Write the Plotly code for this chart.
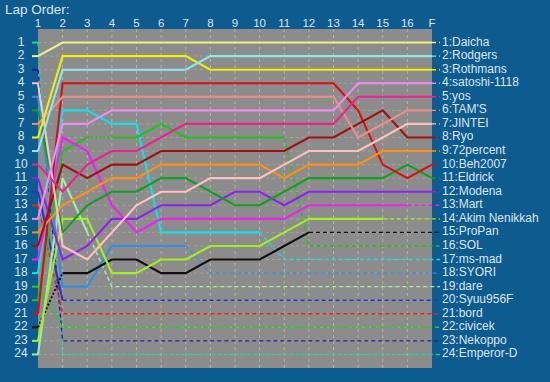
import plotly.graph_objects as go

# ---------------- data ----------------
drivers = ["Daicha", "Rodgers", "Rothmans", "satoshi-1118", "yos", "TAM'S", "JINTEI",
           "Ryo", "72percent", "Beh2007", "Eldrick", "Modena", "Mart", "Akim Nenikkah",
           "ProPan", "SOL", "ms-mad", "SYORI", "dare", "Syuu956F", "bord", "civicek",
           "Nekoppo", "Emperor-D"]

lap_labels = ["1", "2", "3", "4", "5", "6", "7", "8", "9", "10", "11", "12", "13",
              "14", "15", "16", "F"]

# position at each lap column (first column = grid)
pos_daicha = [2, 1, 1, 1, 1, 1, 1, 1, 1, 1, 1, 1, 1, 1, 1, 1, 1]
pos_rodgers = [9, 3, 3, 3, 3, 3, 3, 2, 2, 2, 2, 2, 2, 2, 2, 2, 2]
pos_rothmans = [8, 2, 2, 2, 2, 2, 2, 3, 3, 3, 3, 3, 3, 3, 3, 3, 3]
pos_satoshi = [14, 7, 7, 6, 6, 6, 6, 6, 6, 6, 6, 6, 6, 4, 4, 4, 4]
pos_yos = [10, 12, 10, 9, 9, 8, 7, 7, 7, 7, 7, 7, 7, 5, 5, 5, 5]
pos_tams = [7, 5, 5, 5, 5, 5, 5, 5, 5, 5, 5, 5, 5, 8, 7, 6, 6]
pos_jintei = [4, 16, 17, 15, 13, 12, 12, 11, 11, 11, 10, 9, 9, 9, 8, 7, 7]
pos_ryo = [16, 10, 11, 10, 10, 9, 9, 9, 9, 9, 9, 8, 8, 7, 6, 8, 8]
pos_72percent = [15, 13, 12, 11, 11, 10, 10, 10, 10, 10, 11, 10, 10, 10, 9, 9, 9]
pos_beh2007 = [21, 4, 4, 4, 4, 4, 4, 4, 4, 4, 4, 4, 4, 6, 10, 11, 10]
pos_eldrick = [6, 15, 13, 12, 12, 11, 11, 12, 13, 13, 12, 11, 11, 11, 11, 10, 11]
pos_modena = [11, 17, 16, 14, 14, 13, 13, 13, 12, 12, 13, 12, 12, 12, 12, 12, 12]
pos_mart = [17, 8, 9, 13, 15, 14, 14, 14, 14, 14, 14, 13, 13, 13, 13, 13, 13]
pos_akim = [23, 14, 14, 18, 18, 17, 17, 16, 16, 16, 15, 14, 14, 14, 14, 14, 14]
pos_propan = [22, 18, 18, 17, 17, 18, 18, 17, 17, 17, 16, 15, 15, 15, 15, 15, 15]
pos_sol = [20, 9, 8, 8, 8, 7, 8, 8, 8, 8, 8, 16, 16, 16, 16, 16, 16]
pos_msmad = [18, 6, 6, 7, 7, 15, 15, 15, 15, 15, 17, 17, 17, 17, 17, 17, 17]
pos_syori = [5, 19, 19, 16, 16, 16, 16, 18, 18, 18, 18, 18, 18, 18, 18, 18, 18]
pos_dare = [24, 11, 15, 19, 19, 19, 19, 19, 19, 19, 19, 19, 19, 19, 19, 19, 19]
pos_syuu = [12, 20, 20, 20, 20, 20, 20, 20, 20, 20, 20, 20, 20, 20, 20, 20, 20]
pos_bord = [13, 21, 21, 21, 21, 21, 21, 21, 21, 21, 21, 21, 21, 21, 21, 21, 21]
pos_civicek = [19, 22, 22, 22, 22, 22, 22, 22, 22, 22, 22, 22, 22, 22, 22, 22, 22]
pos_nekoppo = [3, 23, 23, 23, 23, 23, 23, 23, 23, 23, 23, 23, 23, 23, 23, 23, 23]
pos_emperor = [1, 24, 24, 24, 24, 24, 24, 24, 24, 24, 24, 24, 24, 24, 24, 24, 24]

positions = [pos_daicha, pos_rodgers, pos_rothmans, pos_satoshi, pos_yos, pos_tams,
             pos_jintei, pos_ryo, pos_72percent, pos_beh2007, pos_eldrick, pos_modena,
             pos_mart, pos_akim, pos_propan, pos_sol, pos_msmad, pos_syori, pos_dare,
             pos_syuu, pos_bord, pos_civicek, pos_nekoppo, pos_emperor]

# last lap column (1-based) run on track; afterwards drawn dashed
last_lap = [17, 17, 17, 17, 17, 17, 17, 17, 17, 17, 17, 17,
            16, 15, 12, 11, 10, 7, 3, 2, 1, 1, 1, 1]

# lap columns whose following segment is marked (pit) – drawn dotted
pit_laps = {"ProPan": [1], "SOL": [3]}

colors = ["#f0f08c", "#8ce8f0", "#f0f000", "#f08cf0", "#f0208c", "#f08c8c", "#ffc0c0",
          "#a01010", "#ff9010", "#d81010", "#10a020", "#9020f0", "#f020f0", "#a0f020",
          "#101010", "#20c020", "#10e0f0", "#3090e0", "#a0f0a0", "#3030d0", "#f02020",
          "#20d020", "#2020a0", "#20d0a0"]

# ---------------- geometry ----------------
W, H = 550, 382
PL, PR, PT, PB = 38, 432, 29, 368
NLAP = len(lap_labels)
NROW = len(drivers)
xpp = (PR - PL) / (NLAP - 1)
ypp = (PB - PT) / (NROW + 1)


def px_x(px):
    return 1 + (px - PL) / xpp


def px_y(py):
    return (py - PT) / ypp


BG = "#0d5b8f"
PLOT_BG = "#8c8c8c"
TXT = "#dae5f0"
FONT = "Liberation Sans"

STYLE = {
    "solid": dict(width=2.1),
    "dot": dict(width=2.0, dash="2px,2px"),
    "dash": dict(width=1.4, dash="4px,3px"),
}

fig = go.Figure()

laps = list(range(1, NLAP + 1))
x_left = px_x(32)
x_right = px_x(440)

order = list(range(NROW))[::-1]
for i in order:
    name = drivers[i]
    p = positions[i]
    c = colors[i]
    L = last_lap[i]
    pits = pit_laps.get(name, [])
    # grid marker on the left
    fig.add_trace(go.Scatter(x=[x_left, 1], y=[p[0], p[0]], mode="lines",
                             line=dict(color=c, width=2), hoverinfo="skip",
                             showlegend=False))
    # segments lap k -> k+1, plus the tail to the label
    xs_all = laps + [x_right]
    ys_all = p + [p[-1]]
    styles = []
    for k in range(1, NLAP + 1):
        if k >= L:
            styles.append("dash")
        elif k in pits:
            styles.append("dot")
        else:
            styles.append("solid")
    # group consecutive segments with the same style
    start = 0
    for s in range(1, len(styles) + 1):
        if s == len(styles) or styles[s] != styles[start]:
            xs = xs_all[start:s + 1]
            ys = ys_all[start:s + 1]
            st = STYLE[styles[start]]
            fig.add_trace(go.Scatter(x=xs, y=ys, mode="lines",
                                     line=dict(color=c, **st), hoverinfo="skip",
                                     showlegend=False, name=name))
            start = s

# right labels
final = [p[-1] for p in positions]
fig.add_trace(go.Scatter(x=[px_x(442)] * NROW, y=final, mode="text",
                         text=[f"{f}:{n}" for f, n in zip(final, drivers)],
                         textposition="middle right",
                         textfont=dict(family=FONT, size=12, color=TXT),
                         hoverinfo="skip", showlegend=False))
# row numbers
rows = list(range(1, NROW + 1))
fig.add_trace(go.Scatter(x=[px_x(21)] * NROW, y=rows, mode="text",
                         text=[str(r) for r in rows], textposition="middle center",
                         textfont=dict(family=FONT, size=12, color=TXT),
                         hoverinfo="skip", showlegend=False))
# lap labels
fig.add_trace(go.Scatter(x=laps, y=[px_y(24)] * NLAP, mode="text",
                         text=lap_labels, textposition="middle center",
                         textfont=dict(family=FONT, size=11.5, color=TXT),
                         hoverinfo="skip", showlegend=False))

shapes = [dict(type="rect", xref="x", yref="y", x0=1, x1=NLAP, y0=0, y1=NROW + 1,
               fillcolor=PLOT_BG, line=dict(width=0), layer="below")]
for lx in laps[1:-1]:
    shapes.append(dict(type="line", xref="x", yref="y", x0=lx, x1=lx, y0=0, y1=NROW + 1,
                       line=dict(color="#b4b4a4", width=1, dash="dot"), layer="below"))
for r in rows:
    shapes.append(dict(type="line", xref="x", yref="y", x0=1, x1=NLAP, y0=r, y1=r,
                       line=dict(color="#a4a49c", width=1, dash="dot"), layer="below"))

fig.update_layout(
    width=W, height=H,
    margin=dict(l=0, r=0, t=0, b=0),
    paper_bgcolor=BG, plot_bgcolor=BG,
    shapes=shapes,
    xaxis=dict(range=[px_x(0), px_x(W)], visible=False, fixedrange=True),
    yaxis=dict(range=[px_y(H), px_y(0)], visible=False, fixedrange=True),
    annotations=[dict(text="Lap Order:", xref="paper", yref="paper", x=3 / W,
                      y=1 - 10 / H, xanchor="left", yanchor="middle", showarrow=False,
                      font=dict(family=FONT, size=13.5, color=TXT))],
)

fig.write_html("out.html", config={"displayModeBar": False},
               post_script="document.body.style.margin='0';document.body.style.background='#0d5b8f';")
